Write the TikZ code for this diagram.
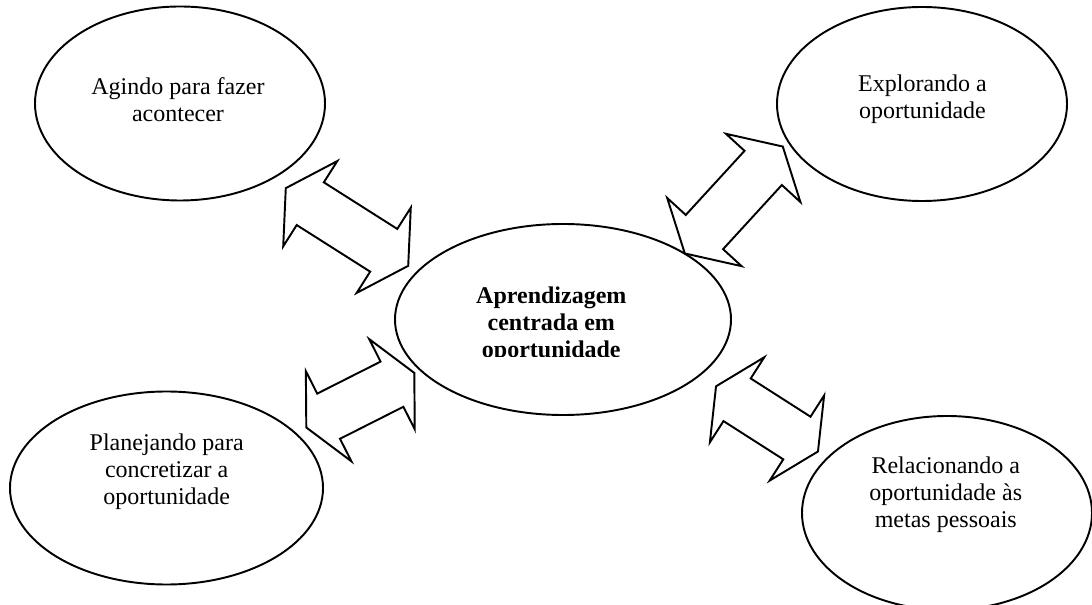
\documentclass[tikz,border=0pt]{standalone}
\usepackage{fontspec}
\setmainfont{Liberation Serif}
\usetikzlibrary{shapes.geometric}
\tikzset{
  outline/.style={draw=black, line width=1.45pt, line join=miter},
  bubble/.style={outline, ellipse, inner sep=0pt},
  txt/.style={align=center, inner sep=0pt, font=\fontsize{18}{20.25}\selectfont},
  boldtxt/.style={txt, font=\fontsize{18}{20.25}\selectfont\bfseries},
  pics/dblarr/.style n args={2}{code={
    \draw[outline] (-#1,0) -- (-#1+#2,50.5) -- (-#1+#2,25.3) -- (#1-#2,25.3)
      -- (#1-#2,50.5) -- (#1,0) -- (#1-#2,-50.5) -- (#1-#2,-25.3)
      -- (-#1+#2,-25.3) -- (-#1+#2,-50.5) -- cycle;
  }}
}
\begin{document}
\begin{tikzpicture}[x=0.75pt, y=-0.75pt]
\useasboundingbox (0,0) rectangle (1092,605);
\clip (0,0) rectangle (1092,605);
% ellipses
\node[bubble, minimum width=290pt*0.75, minimum height=194pt*0.75] (agir) at (180,103.5) {};
\node[bubble, minimum width=290pt*0.75, minimum height=194pt*0.75] (explorar) at (922,104) {};
\node[bubble, minimum width=313pt*0.75, minimum height=193pt*0.75] (planejar) at (166.5,488) {};
\node[bubble, minimum width=290pt*0.75, minimum height=194pt*0.75] (relacionar) at (947,513) {};
\node[bubble, minimum width=336pt*0.75, minimum height=191pt*0.75] (centro) at (563,319.5) {};
% texts
\node[txt] (tagir) at (178,100) {Agindo para fazer\\acontecer};
\node[txt] (texplorar) at (922.5,99.3) {Explorando a\\oportunidade};
\node[txt] (tplanejar) at (166.7,471.8) {Planejando para\\concretizar a\\oportunidade};
\node[txt] (trelacionar) at (945.8,495.1) {Relacionando a\\oportunidade às\\metas pessoais};
\begin{scope}
  \clip (400,230) rectangle (720,357);
  \node[boldtxt] (tcentro) at (551.3,324.5) {Aprendizagem\\centrada em\\oportunidade};
\end{scope}
% double block arrows
\pic[rotate=-32.4] (a1) at (347,227) {dblarr={72.5}{29}};
\pic[rotate=47.5] (a2) at (733.8,200) {dblarr={72.5}{29}};
\pic[rotate=26.8] (a3) at (360.3,400.2) {dblarr={60.5}{25}};
\pic[rotate=-32.6] (a4) at (767,418.9) {dblarr={60.5}{25}};
\end{tikzpicture}
\end{document}
